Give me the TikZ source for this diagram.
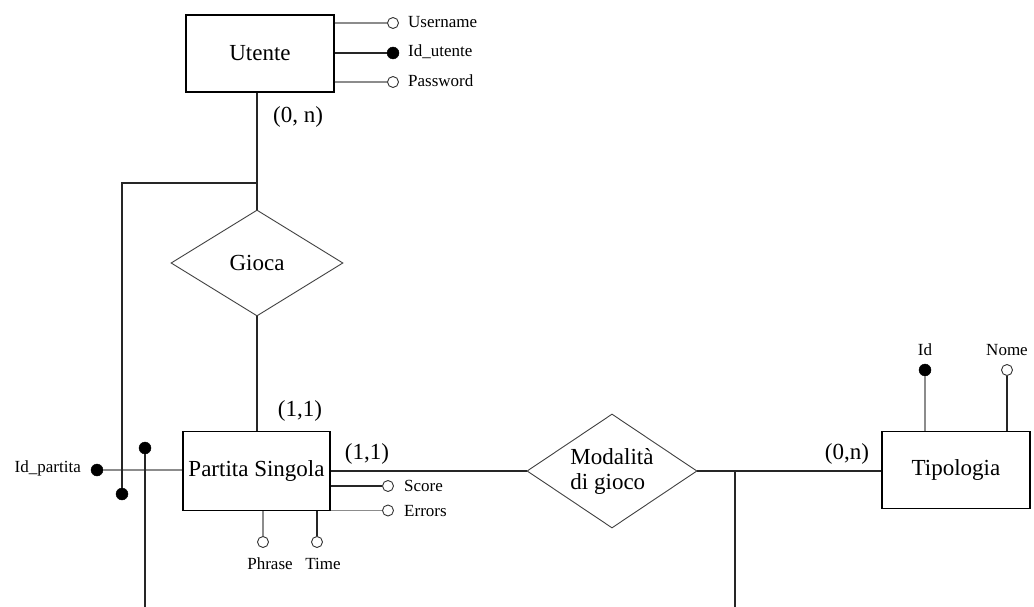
\documentclass[tikz,border=0pt]{standalone}
\usepackage{fontspec}
\setmainfont{Liberation Serif}
\usetikzlibrary{shapes.geometric}
\begin{document}
\begin{tikzpicture}[x=1pt,y=-1pt,
  entity/.style={draw=black,line width=1.3pt,rectangle,minimum width=148pt,minimum height=77pt,inner sep=0pt,font=\fontsize{23}{26}\selectfont},
  relation/.style={draw=black!75,line width=0.9pt,diamond,inner sep=0pt,font=\fontsize{23}{26}\selectfont,align=left},
  link/.style={draw=black!85,line width=1.1pt},
  glink/.style={draw=black!45,line width=1.1pt},
  keyattr/.style={circle,fill=black,draw=black,minimum size=12pt,inner sep=0pt},
  attr/.style={circle,fill=white,draw=black!80,line width=0.9pt,minimum size=11pt,inner sep=0pt},
  small/.style={font=\fontsize{17}{19}\selectfont,inner sep=0pt},
  card/.style={font=\fontsize{23}{26}\selectfont,inner sep=0pt}]
\useasboundingbox (0,0) rectangle (1034,607);

% entities
\node[entity] (utente) at (260,53.5) {Utente};
\node[entity,minimum width=147pt,minimum height=79pt] (partita) at (256.5,471) {Partita Singola};
\node[entity] (tipologia) at (956,470) {Tipologia};

% relationships
\node[relation,minimum width=172pt,minimum height=106pt] (gioca) at (257,263) {Gioca};
\node[relation,inner sep=-12pt,minimum width=170pt,minimum height=114pt] (modalita) at (612,471) {Modalità\\[-1pt]di gioco};

% attributes of Utente
\node[attr] (username) at (393,23) {};
\node[keyattr] (idutente) at (393,53) {};
\node[attr] (password) at (393,82) {};
\node[small,anchor=west] at (408,22) {Username};
\node[small,anchor=west] at (408,52) {Id\_utente};
\node[small,anchor=west] at (408,81) {Password};
\draw[glink] (utente.east |- username) -- (username);
\draw[link] (utente.east |- idutente) -- (idutente);
\draw[glink] (utente.east |- password) -- (password);

% attributes of Partita Singola
\node[keyattr] (idpartita) at (97,470) {};
\node[small,anchor=east] at (81,468) {Id\_partita};
\node[attr] (score) at (388,486) {};
\node[attr] (errors) at (388,510.5) {};
\node[small,anchor=west] at (404,486) {Score};
\node[small,anchor=west] at (404,511) {Errors};
\node[attr] (phrase) at (263,542) {};
\node[attr] (time) at (317,542) {};
\node[small] at (270,564) {Phrase};
\node[small] at (323,564) {Time};
\draw[glink] (idpartita) -- (partita.west |- idpartita);
\draw[link] (partita.east |- score) -- (score);
\draw[glink] (partita.east |- errors) -- (errors);
\draw[glink] (phrase) -- (phrase |- partita.south);
\draw[link] (time) -- (time |- partita.south);

% attributes of Tipologia
\node[keyattr] (idtipo) at (925,370) {};
\node[attr] (nome) at (1007,370) {};
\node[small] at (925,350) {Id};
\node[small] at (1007,350) {Nome};
\draw[glink] (idtipo) -- (idtipo |- tipologia.north);
\draw[link] (nome) -- (nome |- tipologia.north);

% Gioca links and the identifier branch
\coordinate (jg) at (257,183);
\coordinate (jl) at (122,183);
\node[keyattr] (idext) at (122,494) {};
\draw[link] (utente.south -| jg) -- (gioca.north);
\draw[link] (jg) -- (jl) -- (idext);
\draw[link] (gioca.south) -- (partita.north -| gioca.south);
\node[keyattr] (idsec) at (145,448) {};
\coordinate (secend) at (145,607);
\draw[link] (idsec) -- (secend);

% Modalita di gioco links
\draw[link] (partita.east) -- (modalita.west);
\draw[link] (modalita.east) -- (modalita.east -| tipologia.west);
\coordinate (jm) at (735,471);
\coordinate (jmend) at (735,607);
\draw[link] (jm) -- (jmend);

% cardinalities
\node[card] at (298,117) {(0, n)};
\node[card] at (300,411) {(1,1)};
\node[card] at (367,454) {(1,1)};
\node[card] at (847,454) {(0,n)};
\end{tikzpicture}
\end{document}
